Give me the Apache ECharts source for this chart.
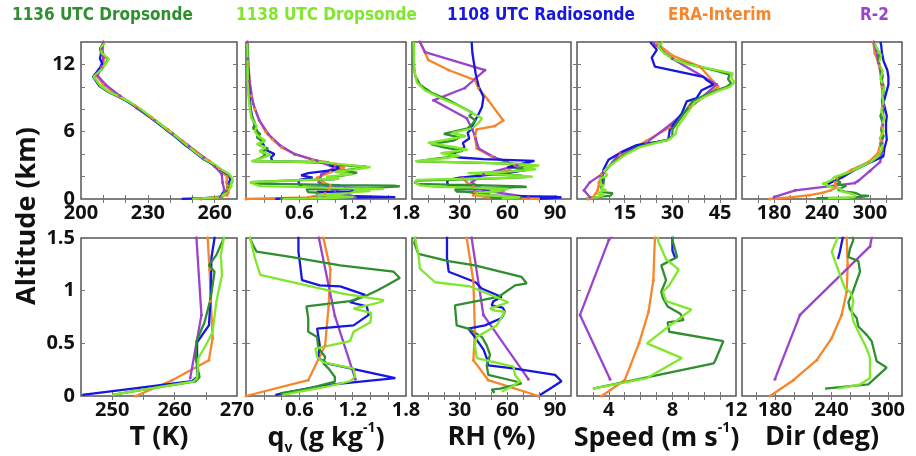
<!DOCTYPE html>
<html>
<head>
<meta charset="utf-8">
<title>Profiles</title>
<script src="https://cdn.jsdelivr.net/npm/echarts@6.0.0/dist/echarts.min.js"></script>
<style>
  html, body { margin: 0; padding: 0; background: #fff; }
  #chart { width: 916px; height: 456px; }
</style>
</head>
<body>
<div id="chart"></div>
<script>
// every profile is a list of [value, altitude in km]
const sourceNames = ["1136 UTC Dropsonde", "1138 UTC Dropsonde", "1108 UTC Radiosonde", "ERA-Interim", "R-2"];

// temperature (K)
const temp1136 = [[250.0,0.01],[256,0.07],[263.4,0.14],[264.0,0.18],[263.4,0.35],[263.5,0.52],[264.8,0.7],[265.8,0.93],[266.4,1.18],[265.5,1.24],[266.7,1.34],[267.9,1.5],[267.8,1.8],[266.4,2.2],[263,2.6],[259.5,3.1],[255,3.6],[251,4.2],[246.8,4.9],[242.5,5.6],[238.5,6.2],[234,6.9],[227,7.95],[222,8.6],[217.3,9.1],[212,9.6],[208.5,10.1],[205.8,10.9],[207.5,11.2],[209.5,11.6],[211,12.1],[212.2,12.5],[209,13.0],[208.5,13.4],[210.5,14.0]];
const temp1138 = [[250.0,0.01],[256,0.07],[263,0.136],[263.6,0.17],[263.8,0.36],[265,0.48],[266.1,0.61],[266.7,0.9],[267.6,1.15],[267.4,1.34],[267.9,1.5],[268,1.8],[266.6,2.2],[263.2,2.6],[259.8,3.1],[255.2,3.6],[251.2,4.2],[247,4.9],[242.6,5.6],[238.7,6.2],[234.2,6.9],[227.3,7.95],[222.2,8.6],[217.5,9.1],[212.2,9.6],[208.8,10.1],[205.6,10.9],[207.8,11.3],[209.8,11.7],[211.3,12.1],[212.5,12.5],[209.3,13.0],[209,13.5],[211,14.0]];
const tempRadio = [[245.2,0.01],[252,0.06],[262.8,0.14],[263.6,0.18],[263.6,0.51],[265.5,0.67],[265.8,0.95],[265.9,1.31],[266.4,1.5],[267,1.8],[265.8,2.2],[262.6,2.6],[259.2,3.1],[254.6,3.6],[250.8,4.2],[246.2,4.9],[242,5.6],[238,6.2],[233.6,6.9],[226.6,7.95],[221.6,8.6],[217,9.1],[211.8,9.6],[208.2,10.1],[205.4,10.9],[207,11.3],[208.5,11.7],[209.5,12.1],[208.5,12.5],[209,13.0],[210,14.0]];
const tempEra = [[253.8,0.0],[259.6,0.15],[265.5,0.34],[266.1,0.55],[265.8,0.9],[265.6,1.2],[265.3,1.5],[265.5,2.0],[262,2.7],[257.5,3.4],[252,4.2],[245.5,5.2],[239,6.2],[231.5,7.3],[224.5,8.3],[217,9.2],[210,10.2],[207,11.0],[209.5,11.8],[210.5,12.6],[209.5,13.4],[210,14]];
const tempR2 = [[262.5,0.17],[264.3,0.77],[263.5,1.5],[263.2,2.2],[260,2.9],[255,3.7],[248.5,4.7],[241,5.8],[233,7.0],[225,8.1],[217.5,9.2],[211,10.2],[207.5,11.0],[209,11.8],[210,12.6],[209.5,13.4],[210,14]];

// water vapour mixing ratio (g/kg)
const q1136 = [[0.38,0.024],[0.7,0.07],[1.0,0.136],[1.0,0.18],[0.93,0.26],[0.87,0.31],[0.89,0.37],[0.83,0.44],[0.81,0.48],[0.80,0.56],[0.70,0.61],[0.70,0.74],[0.68,0.85],[1.17,0.90],[1.32,0.94],[1.47,1.0],[1.58,1.05],[1.73,1.12],[1.66,1.18],[1.06,1.24],[0.5,1.32],[0.12,1.37],[0.08,1.43],[0.045,1.5],[0.05,1.6],[0.6,1.68],[1.0,1.75],[0.95,1.9],[1.1,2.1],[1.25,2.35],[1.05,2.5],[1.3,2.75],[1.35,2.9],[1.1,3.0],[0.95,3.15],[0.9,3.3],[0.08,3.35],[0.15,3.6],[0.22,3.9],[0.18,4.2],[0.25,4.5],[0.15,4.8],[0.2,5.1],[0.12,5.5],[0.16,5.8],[0.08,6.3],[0.1,6.8],[0.06,7.5],[0.04,8.5],[0.03,9.5],[0.02,11],[0.015,14]];
const q1138 = [[0.41,0.01],[0.91,0.09],[1.17,0.14],[1.23,0.18],[1.21,0.26],[0.87,0.32],[0.80,0.37],[0.78,0.45],[1.17,0.52],[1.21,0.61],[1.40,0.7],[1.41,0.79],[1.21,0.83],[1.51,0.89],[1.55,0.91],[1.1,0.97],[0.68,1.05],[0.16,1.15],[0.1,1.31],[0.045,1.5],[0.05,1.62],[0.7,1.7],[1.05,1.8],[0.9,2.0],[1.2,2.2],[1.0,2.4],[1.28,2.7],[1.4,2.85],[1.2,3.0],[0.95,3.2],[0.85,3.3],[0.06,3.38],[0.18,3.65],[0.28,3.95],[0.15,4.25],[0.22,4.6],[0.12,4.9],[0.22,5.2],[0.14,5.6],[0.1,6.0],[0.12,6.5],[0.06,7.2],[0.045,8],[0.03,9],[0.02,10.5],[0.015,14]];
const qRadio = [[0.33,0.01],[0.87,0.1],[1.68,0.17],[1.24,0.25],[0.91,0.31],[0.81,0.36],[0.83,0.48],[0.80,0.64],[1.21,0.67],[1.38,0.77],[1.36,0.85],[1.17,0.89],[1.34,0.96],[1.06,1.04],[0.83,1.05],[0.63,1.10],[0.61,1.24],[0.59,1.37],[0.59,1.5],[0.6,1.7],[0.75,1.9],[0.62,2.1],[0.7,2.3],[1.0,2.6],[1.05,2.8],[0.95,3.0],[0.93,3.25],[0.3,3.35],[0.28,3.7],[0.32,4.0],[0.22,4.4],[0.2,4.8],[0.16,5.3],[0.14,5.8],[0.1,6.5],[0.07,7.3],[0.05,8.2],[0.04,9.2],[0.03,10.5],[0.02,12],[0.02,14]];
const qEra = [[0.0,0.0],[0.7,0.15],[0.89,0.48],[0.93,0.86],[0.95,1.2],[0.87,1.5],[0.8,1.9],[0.95,2.4],[1.1,2.8],[1.0,3.1],[0.75,3.5],[0.55,4.0],[0.4,4.6],[0.3,5.3],[0.22,6.0],[0.15,7.0],[0.1,8.0],[0.06,9.2],[0.04,10.5],[0.03,12],[0.02,14]];
const qR2 = [[1.23,0.16],[1.0,0.76],[0.82,1.5],[0.85,2.2],[1.0,2.8],[0.8,3.4],[0.55,4.0],[0.38,4.8],[0.25,5.8],[0.15,7.0],[0.08,8.5],[0.04,10.5],[0.02,12.5],[0.015,14]];

// relative humidity (%)
const rh1136 = [[52,0.03],[50,0.06],[55.4,0.07],[68.9,0.12],[64.8,0.14],[48,0.2],[47,0.29],[49.1,0.39],[47,0.48],[44,0.56],[35.4,0.64],[28.1,0.67],[27,0.86],[54.3,0.94],[64.8,1.05],[72.1,1.07],[68.9,1.13],[39.6,1.24],[22.9,1.28],[4,1.35],[1.5,1.45],[2,1.5],[3,1.65],[45,1.8],[72,1.95],[68,2.1],[40,2.25],[55,2.4],[74,2.6],[65,2.75],[78,2.95],[72,3.1],[50,3.2],[3,3.35],[15,3.6],[28,3.8],[22,4.0],[32,4.3],[20,4.6],[12,4.9],[26,5.2],[30,5.5],[20,5.8],[35,6.3],[38,6.7],[40,7.0],[36,7.4],[38,7.7],[30,8.3],[22,8.9],[12,9.5],[5,10.2],[2,11],[1,12],[1,14]];
const rh1138 = [[56.4,0.04],[62.7,0.09],[68,0.14],[64.8,0.2],[63.8,0.28],[40.7,0.36],[39.6,0.48],[40.7,0.56],[53.3,0.67],[58.5,0.8],[52.2,0.81],[49,0.83],[60.6,0.89],[36.5,1.04],[14.5,1.08],[5,1.21],[4,1.34],[1.9,1.5],[3,1.7],[50,1.85],[76,2.0],[60,2.15],[35,2.3],[60,2.45],[78,2.65],[70,2.8],[80,3.0],[60,3.15],[40,3.25],[2,3.38],[18,3.6],[30,3.85],[18,4.1],[35,4.4],[24,4.7],[10,5.0],[22,5.3],[34,5.6],[25,5.9],[38,6.3],[42,6.8],[44,7.2],[40,7.5],[35,7.9],[28,8.4],[18,9.0],[8,9.7],[3,10.4],[1.5,11.5],[1,14]];
const rhRadio = [[80.5,0.01],[88,0.08],[94,0.14],[90,0.2],[64.8,0.26],[48,0.29],[47,0.36],[45,0.44],[40,0.55],[35.4,0.64],[45.9,0.67],[56.4,0.74],[58.5,0.8],[57,0.84],[50.1,0.86],[51.2,0.9],[56.4,0.94],[43.8,1.02],[40,1.08],[23.1,1.18],[22,1.31],[22,1.5],[23,1.7],[30,1.9],[45,2.1],[60,2.3],[70,2.55],[75,2.7],[60,2.85],[65,3.0],[77,3.4],[45,3.55],[30,3.7],[25,3.85],[28,4.2],[33,4.6],[32,5.0],[36,5.4],[35,5.9],[37,6.2],[39,6.8],[42,7.6],[44,8.2],[45,9.1],[42,10.0],[40,11.2],[39,12.1],[38,13],[37.5,14]];
const rhEra = [[79.5,0.0],[48,0.15],[38.6,0.34],[39.6,0.61],[38.6,1.09],[34.4,1.5],[32,1.85],[60,2.5],[64.8,3.0],[50,3.8],[40.7,4.5],[39.6,5.6],[40.7,6.2],[52,6.5],[57.4,7.0],[48,8.8],[41.7,9.9],[39.6,10.6],[22.9,11.5],[10.3,12.4],[5,14]];
const rhR2 = [[73.2,0.16],[44.9,0.77],[37.5,1.5],[45,2.2],[66,3.0],[52,3.7],[42,4.5],[40,5.4],[38,6.2],[34.4,7.2],[13.5,8.8],[33.3,9.9],[39.6,10.7],[45.9,11.5],[8.2,13.1],[5,14]];

// wind speed (m/s)
const spd1136 = [[3.0,0.07],[10.6,0.31],[10.7,0.34],[11.2,0.52],[7.8,0.61],[7.7,0.7],[8.7,0.72],[8.5,0.78],[7.7,0.85],[7.4,0.93],[7.3,0.99],[7.6,1.1],[7.3,1.24],[8.3,1.32],[8.0,1.48],[8.5,1.8],[7.5,2.2],[9,2.6],[10.5,3.0],[13,3.6],[15,4.0],[19,4.6],[24,5.0],[28,5.2],[30,5.6],[30,6.2],[32,7.0],[33.5,7.6],[36,8.6],[39,9.1],[43,9.6],[47,10.0],[48.5,10.3],[47.5,10.7],[48,11.1],[43,11.5],[37,11.9],[31,12.4],[27.5,13.0],[26,13.5],[26.5,14]];
const spd1138 = [[3.0,0.07],[6.4,0.17],[8.6,0.36],[6.4,0.5],[7.85,0.67],[9.2,0.82],[7.6,0.9],[7.4,0.99],[7.8,1.05],[8.4,1.2],[7.6,1.3],[7.1,1.47],[7.2,1.8],[9.5,2.1],[8.5,2.5],[10.5,3.0],[13.5,3.6],[15.5,4.0],[19.5,4.6],[25,5.0],[29,5.3],[31,5.8],[31.5,6.4],[33,7.0],[34.5,7.6],[37,8.6],[40,9.1],[44,9.6],[48,10.0],[49.5,10.4],[48.5,10.8],[49,11.2],[42,11.6],[35,12.0],[30,12.5],[27,13.1],[25.5,13.6],[27,14]];
const spdRadio = [[8.2,1.3],[8.0,1.38],[8.0,1.5],[8.0,2.0],[8.3,2.6],[9.9,3.5],[14.1,4.2],[18.8,4.8],[25.1,5.1],[28.7,5.3],[29.2,6.2],[31.3,7.0],[32.9,7.6],[34.5,8.7],[37.6,9.0],[39.2,9.7],[42.9,10.2],[40.8,10.6],[39.7,10.9],[24.5,11.8],[23.5,12.6],[25.1,13.3],[23,14]];
const spdEra = [[3.55,0.0],[5.0,0.15],[5.9,0.5],[6.5,0.8],[6.8,1.1],[6.9,1.5],[7.8,2.2],[13.5,3.9],[21.9,5.2],[29.2,6.4],[35.5,8.2],[44.4,10.0],[38.7,11.8],[30,12.8],[25,13.9]];
const spdR2 = [[4.08,0.16],[2.19,0.77],[4.0,1.48],[8.3,2.3],[13.5,4.1],[21.7,5.0],[29.2,6.6],[43.9,10.2],[30,12.5],[24,13.9]];

// wind direction (deg)
const dir1136 = [[233.2,0.07],[279.2,0.11],[298.7,0.27],[288.1,0.33],[282.8,0.52],[277.5,0.58],[268.6,0.66],[266.8,0.74],[259.8,0.82],[258,0.89],[261.5,0.96],[270.4,1.18],[268.6,1.28],[258,1.32],[259.8,1.4],[263.3,1.48],[258,1.7],[262,2.0],[275,2.4],[290,2.9],[303,3.4],[312,3.9],[316,4.4],[313,5.0],[317,5.6],[314,6.2],[316,6.8],[313,7.4],[316,8.0],[315,8.8],[317,9.6],[314,10.3],[316,11.0],[313,11.6],[310,12.3],[312,13.0],[307,13.6],[305,14.0]];
const dir1138 = [[247.3,0.07],[270.4,0.11],[281,0.17],[281,0.36],[277.5,0.45],[268.6,0.61],[263.3,0.71],[261.5,0.8],[263.3,0.91],[259.8,0.99],[254.4,1.02],[243.8,1.28],[240.3,1.37],[245.6,1.48],[252,1.7],[255,1.95],[270,2.3],[286,2.8],[300,3.3],[310,3.8],[314,4.3],[316,4.9],[312,5.4],[317,6.0],[315,6.6],[318,7.2],[314,7.9],[317,8.6],[315,9.3],[318,10.0],[313,10.7],[316,11.4],[311,12.1],[314,12.8],[308,13.5],[306,14.0]];
const dirRadio = [[247,1.3],[249,1.37],[252,1.5],[258,1.7],[264.6,1.9],[281,2.6],[298,3.2],[316.7,3.8],[318,4.5],[321,5.3],[320,6.0],[320,6.8],[321,7.4],[319,8.0],[317,8.6],[320,9.4],[323,10.2],[323,10.9],[321.6,11.5],[317,12.3],[315,13.0],[314,13.7],[313,14]];
const dirEra = [[174.8,0.0],[199.5,0.15],[224.4,0.34],[240.3,0.55],[250.9,0.77],[256.2,0.99],[257.3,1.24],[256.2,1.5],[258.4,1.85],[277,2.6],[298,3.3],[310,4.1],[314,5.2],[315,6.4],[316,8.2],[315,10.0],[312,11.8],[306,13.0],[304,14]];
const dirR2 = [[180,0.16],[206.6,0.77],[281,1.42],[285,1.6],[300,2.5],[312.5,3.3],[316,4.1],[315,5.0],[316,6.6],[317,8.3],[316,10.2],[311,12.1],[305,14]];

// tick labels
const tempTicksTop = [200, 230, 260];
const tempTicksBottom = [250, 260, 270];
const qTicks = [0.6, 1.2, 1.8];
const rhTicks = [30, 60, 90];
const speedTicksTop = [15, 30, 45];
const speedTicksBottom = [4, 8, 12];
const dirTicks = [180, 240, 300];
const altTicksTop = [0, 6, 12];
const altTicksBottom = [0, 0.5, 1, 1.5];

const colors = ["#2f8f2f", "#7fe82a", "#1717e0", "#f7862a", "#9a44cc"];
const drawOrder = [3, 4, 2, 0, 1];
const FONT = '"Open Sans", "DejaVu Sans", sans-serif';
const NARROW = '"Liberation Sans Narrow", "DejaVu Sans Condensed", sans-serif';

const panels = [
  { profiles: [temp1136, temp1138, tempRadio, tempEra, tempR2],
    top: { min: 200, max: 270, step: 10, labels: tempTicksTop },
    bottom: { min: 245, max: 270, step: 5, labels: tempTicksBottom },
    title: "{t|T (K)}" },
  { profiles: [q1136, q1138, qRadio, qEra, qR2],
    top: { min: 0, max: 1.8, step: 0.2, labels: qTicks },
    bottom: { min: 0, max: 1.8, step: 0.2, labels: qTicks },
    title: "{t|q}{sub|v}{t| (g kg}{sup|-1}{t|)}" },
  { profiles: [rh1136, rh1138, rhRadio, rhEra, rhR2],
    top: { min: 0, max: 100, step: 10, labels: rhTicks },
    bottom: { min: 0, max: 100, step: 10, labels: rhTicks },
    title: "{t|RH (%)}" },
  { profiles: [spd1136, spd1138, spdRadio, spdEra, spdR2],
    top: { min: 0, max: 50, step: 5, labels: speedTicksTop },
    bottom: { min: 2, max: 12, step: 1, labels: speedTicksBottom },
    title: "{t|Speed (m s}{sup|-1}{t|)}" },
  { profiles: [dir1136, dir1138, dirRadio, dirEra, dirR2],
    top: { min: 140, max: 340, step: 20, labels: dirTicks },
    bottom: { min: 145, max: 315, step: 20, labels: dirTicks },
    title: "{t|Dir (deg)}" }
];
const rows = [
  { top: 42, height: 157, y: { min: 0, max: 14, step: 2, labels: altTicksTop }, key: "top" },
  { top: 238, height: 158, y: { min: 0, max: 1.5, step: 0.5, labels: altTicksBottom }, key: "bottom" }
];
const colLeft = [81, 246, 412, 577, 742];
const colWidth = [156, 160, 159, 159, 160];

function innerTicks(a) {
  const out = [];
  let v = Math.ceil(a.min / a.step - 1e-9) * a.step;
  for (; v <= a.max + 1e-9; v += a.step) {
    const r = +v.toFixed(4);
    if (r > a.min && r < a.max) out.push(r);
  }
  return out;
}

const grids = [], xAxes = [], yAxes = [], series = [];
const labelStyle = { color: "#111", fontFamily: FONT, fontWeight: "bold", fontSize: 20 };
const tickStyle = { show: true, inside: true, length: 4, lineStyle: { color: "#777", width: 1 } };

rows.forEach((row, r) => {
  panels.forEach((p, c) => {
    const g = grids.length;
    grids.push({
      left: colLeft[c], top: row.top, width: colWidth[c], height: row.height,
      show: true, borderColor: "#555", borderWidth: 1.5, backgroundColor: "#fff",
      outerBoundsMode: "none"
    });
    const xa = p[row.key];
    const xMain = {
      gridIndex: g, type: "value", min: xa.min, max: xa.max, position: "bottom",
      splitLine: { show: false }, axisLine: { show: false },
      axisTick: Object.assign({}, tickStyle, { customValues: innerTicks(xa) }),
      axisLabel: Object.assign({}, labelStyle, { customValues: xa.labels, margin: 4 })
    };
    if (r === 1) {
      Object.assign(xMain, {
        name: p.title, nameLocation: "middle", nameGap: 24,
        nameTextStyle: {
          rich: {
            t: { fontFamily: FONT, fontWeight: "bold", fontSize: 27, color: "#111", lineHeight: 34 },
            sub: { fontFamily: FONT, fontWeight: "bold", fontSize: 14, color: "#111", lineHeight: 34, verticalAlign: "bottom" },
            sup: { fontFamily: FONT, fontWeight: "bold", fontSize: 14, color: "#111", lineHeight: 34, verticalAlign: "top" }
          }
        }
      });
    }
    xAxes.push(xMain);
    yAxes.push({
      gridIndex: g, type: "value", min: row.y.min, max: row.y.max, position: "left",
      splitLine: { show: false }, axisLine: { show: false },
      axisTick: Object.assign({}, tickStyle, { customValues: innerTicks(row.y) }),
      axisLabel: Object.assign({}, labelStyle, { show: c === 0, customValues: row.y.labels, margin: 6 })
    });
    drawOrder.forEach((s) => {
      const model = s >= 3;
      series.push({
        type: "line", name: sourceNames[s], xAxisIndex: g, yAxisIndex: g,
        data: p.profiles[s], clip: true, silent: true, animation: false,
        showSymbol: model, symbol: "circle", symbolSize: 3,
        lineStyle: { width: 2.3, color: colors[s] }, itemStyle: { color: colors[s] }
      });
    });
  });
});

// mirror ticks on the top and right borders
grids.forEach((gr, g) => {
  const r = g < 5 ? 0 : 1, c = g % 5;
  const xa = panels[c][rows[r].key];
  xAxes.push({
    gridIndex: g, type: "value", min: xa.min, max: xa.max, position: "top",
    splitLine: { show: false }, axisLine: { show: false }, axisLabel: { show: false },
    axisTick: Object.assign({}, tickStyle, { customValues: innerTicks(xa) })
  });
  yAxes.push({
    gridIndex: g, type: "value", min: rows[r].y.min, max: rows[r].y.max, position: "right",
    splitLine: { show: false }, axisLine: { show: false }, axisLabel: { show: false },
    axisTick: Object.assign({}, tickStyle, { customValues: innerTicks(rows[r].y) })
  });
});

const legendLeft = [7, 231, 442, 663, 855];
const legends = sourceNames.map((n, i) => ({
  left: legendLeft[i], top: 7, padding: 0, itemWidth: 0, itemGap: 0, selectedMode: false,
  data: [{ name: n, icon: "none", textStyle: { color: colors[i] } }],
  textStyle: { fontFamily: NARROW, fontWeight: "bold", fontSize: 17 }
}));

const chart = echarts.init(document.getElementById("chart"));
chart.setOption({
  backgroundColor: "#fff",
  animation: false,
  legend: legends,
  grid: grids,
  xAxis: xAxes,
  yAxis: yAxes,
  series: series,
  graphic: [{
    type: "text", x: 27, y: 216, rotation: Math.PI / 2,
    style: { text: "Altitude (km)", textAlign: "center", textVerticalAlign: "middle",
      font: 'bold 27px "Open Sans", "DejaVu Sans", sans-serif', fill: "#111" }
  }]
});
</script>
</body>
</html>
